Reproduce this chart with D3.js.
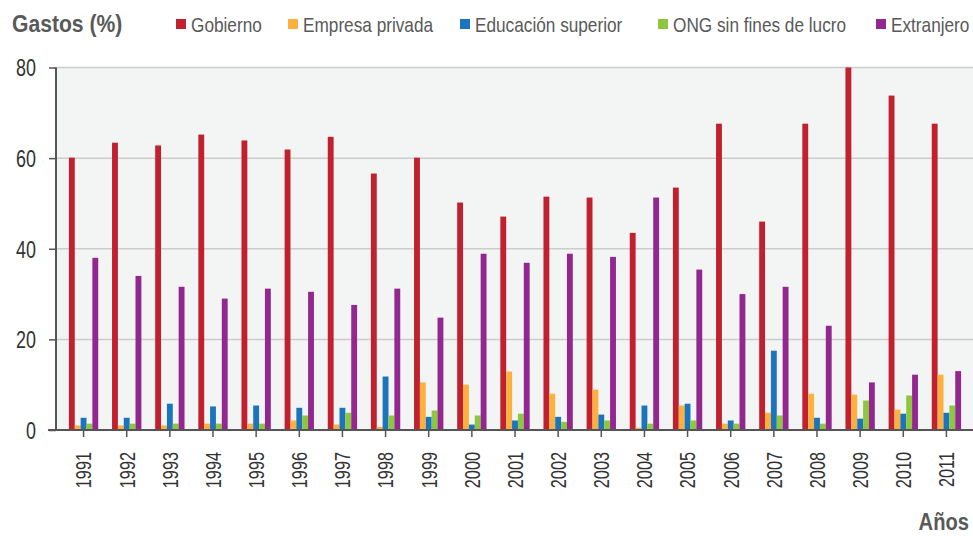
<!DOCTYPE html>
<html>
<head>
<meta charset="utf-8">
<script src="https://cdn.jsdelivr.net/npm/d3@7"></script>
<style>
  body { margin: 0; background: #fff; }
  svg { display: block; font-family: "Liberation Sans", Arial, sans-serif; }
</style>
</head>
<body>
<div id="chart"></div>
<script>
// Data
var years = ["1991", "1992", "1993", "1994", "1995", "1996", "1997", "1998", "1999", "2000",
    "2001", "2002", "2003", "2004", "2005", "2006", "2007", "2008", "2009", "2010", "2011"];
var seriesNames = ["Gobierno", "Empresa privada", "Educación superior", "ONG sin fines de lucro", "Extranjero"];
var gobierno = [60.1, 63.4, 62.8, 65.2, 63.9, 61.9, 64.7, 56.6, 60.1, 50.2, 47.1, 51.5, 51.3, 43.5, 53.5, 67.6, 46.0, 67.6, 80.0, 73.8, 67.6];
var empresa = [1.0, 1.0, 1.0, 1.4, 1.4, 2.1, 1.2, 0.7, 10.5, 10.0, 12.9, 8.0, 8.9, 0.5, 5.4, 1.4, 3.8, 8.0, 7.8, 4.5, 12.2];
var educacion = [2.7, 2.7, 5.8, 5.2, 5.4, 4.9, 4.9, 11.8, 2.9, 1.2, 2.1, 2.9, 3.4, 5.4, 5.8, 2.1, 17.5, 2.7, 2.5, 3.6, 3.8];
var ong = [1.4, 1.4, 1.4, 1.4, 1.4, 3.2, 3.8, 3.2, 4.3, 3.2, 3.6, 1.8, 2.1, 1.4, 2.1, 1.4, 3.2, 1.4, 6.5, 7.6, 5.4];
var extranjero = [38.0, 34.0, 31.6, 29.0, 31.2, 30.5, 27.6, 31.2, 24.8, 38.9, 36.9, 38.9, 38.2, 51.3, 35.4, 30.0, 31.6, 23.0, 10.5, 12.2, 13.0];
var yTicks = [0, 20, 40, 60, 80];

var seriesValues = [gobierno, empresa, educacion, ong, extranjero];
var colors = ["#c1202f", "#fbb040", "#1c75bc", "#8dc63f", "#92278f"];

var width = 973, height = 536;
var plot = { left: 56, right: 973, top: 67.5, bottom: 430 };

var svg = d3.select("#chart").append("svg")
    .attr("width", width)
    .attr("height", height);

// The reference uses a narrow face; squeeze Liberation Sans horizontally instead
function place(sel, x, y, sx, extra) {
    sel.attr("x", 0).attr("y", 0)
        .attr("transform", "translate(" + x + "," + y + ")" + (extra || "") + " scale(" + sx + ",1)");
}

// Scales
var x0 = d3.scaleBand().domain(years).range([62, 968]).paddingInner(0.32).paddingOuter(0.16);
var x1 = d3.scaleBand().domain(seriesNames).range([0, x0.bandwidth()]);
var y = d3.scaleLinear().domain([0, 80]).range([plot.bottom, plot.top]);
var color = d3.scaleOrdinal().domain(seriesNames).range(colors);

// Plot background
svg.append("rect")
    .attr("x", plot.left)
    .attr("y", plot.top)
    .attr("width", plot.right - plot.left)
    .attr("height", plot.bottom - plot.top)
    .attr("fill", "#f3f4f4");

// Grid lines
svg.append("g")
    .selectAll("line")
    .data(yTicks.filter(function (d) { return d > 0; }))
    .enter().append("line")
    .attr("x1", plot.left)
    .attr("x2", plot.right)
    .attr("y1", function (d) { return y(d); })
    .attr("y2", function (d) { return y(d); })
    .attr("stroke", "#cccccc")
    .attr("stroke-width", 1.5);

// Bars
var rows = years.map(function (yr, i) {
    return { year: yr, values: seriesNames.map(function (s, j) { return { key: s, value: seriesValues[j][i] }; }) };
});

var groups = svg.append("g").selectAll("g")
    .data(rows)
    .enter().append("g")
    .attr("transform", function (d) { return "translate(" + x0(d.year) + ",0)"; });

groups.selectAll("rect")
    .data(function (d) { return d.values; })
    .enter().append("rect")
    .attr("x", function (d) { return x1(d.key); })
    .attr("width", x1.bandwidth())
    .attr("y", function (d) { return y(d.value); })
    .attr("height", function (d) { return y(0) - y(d.value); })
    .attr("fill", function (d) { return color(d.key); });

// Y axis
var yAxis = d3.axisLeft(y).tickValues(yTicks).tickSize(7);
var gy = svg.append("g")
    .attr("transform", "translate(" + plot.left + ",0)")
    .call(yAxis);
gy.select(".domain").remove();
gy.selectAll(".tick line").attr("stroke", "#555").attr("stroke-width", 1.5);
gy.selectAll(".tick text")
    .attr("fill", "#333")
    .attr("dy", "0.36em")
    .style("font-size", "23px")
    .each(function () { place(d3.select(this), -20, 0, 0.78); });
svg.append("line")
    .attr("x1", plot.left).attr("x2", plot.left)
    .attr("y1", plot.top).attr("y2", plot.bottom)
    .attr("stroke", "#555").attr("stroke-width", 2);

// X axis
var xAxis = d3.axisBottom(x0).tickSize(7).tickSizeOuter(0);
var gx = svg.append("g")
    .attr("transform", "translate(0," + plot.bottom + ")")
    .call(xAxis);
gx.select(".domain").remove();
gx.selectAll(".tick line").attr("stroke", "#555").attr("stroke-width", 1.5);
gx.selectAll(".tick text")
    .attr("fill", "#333")
    .attr("text-anchor", "end")
    .attr("dy", "0.36em")
    .style("font-size", "22px")
    .each(function () { place(d3.select(this), 0, 22, 0.74, " rotate(-90)"); });
svg.append("line")
    .attr("x1", 48).attr("x2", plot.right)
    .attr("y1", plot.bottom).attr("y2", plot.bottom)
    .attr("stroke", "#555").attr("stroke-width", 2);

// Titles
var yTitle = svg.append("text")
    .attr("fill", "#595959")
    .style("font-size", "24px")
    .style("font-weight", "bold")
    .text("Gastos (%)");
place(yTitle, 12, 32, 0.88);

var xTitle = svg.append("text")
    .attr("text-anchor", "end")
    .attr("fill", "#595959")
    .style("font-size", "24px")
    .style("font-weight", "bold")
    .text("Años");
place(xTitle, 969, 530, 0.84);

// Legend
var legendX = [176, 288, 460, 658, 876];
var legend = svg.append("g").selectAll("g")
    .data(seriesNames)
    .enter().append("g")
    .attr("transform", function (d, i) { return "translate(" + legendX[i] + ",0)"; });

legend.append("rect")
    .attr("x", 0)
    .attr("y", 19)
    .attr("width", 10)
    .attr("height", 10)
    .attr("fill", function (d) { return color(d); });

legend.append("text")
    .attr("fill", "#595959")
    .style("font-size", "21px")
    .text(function (d) { return d; })
    .each(function () { place(d3.select(this), 15, 32, 0.82); });
</script>
</body>
</html>
